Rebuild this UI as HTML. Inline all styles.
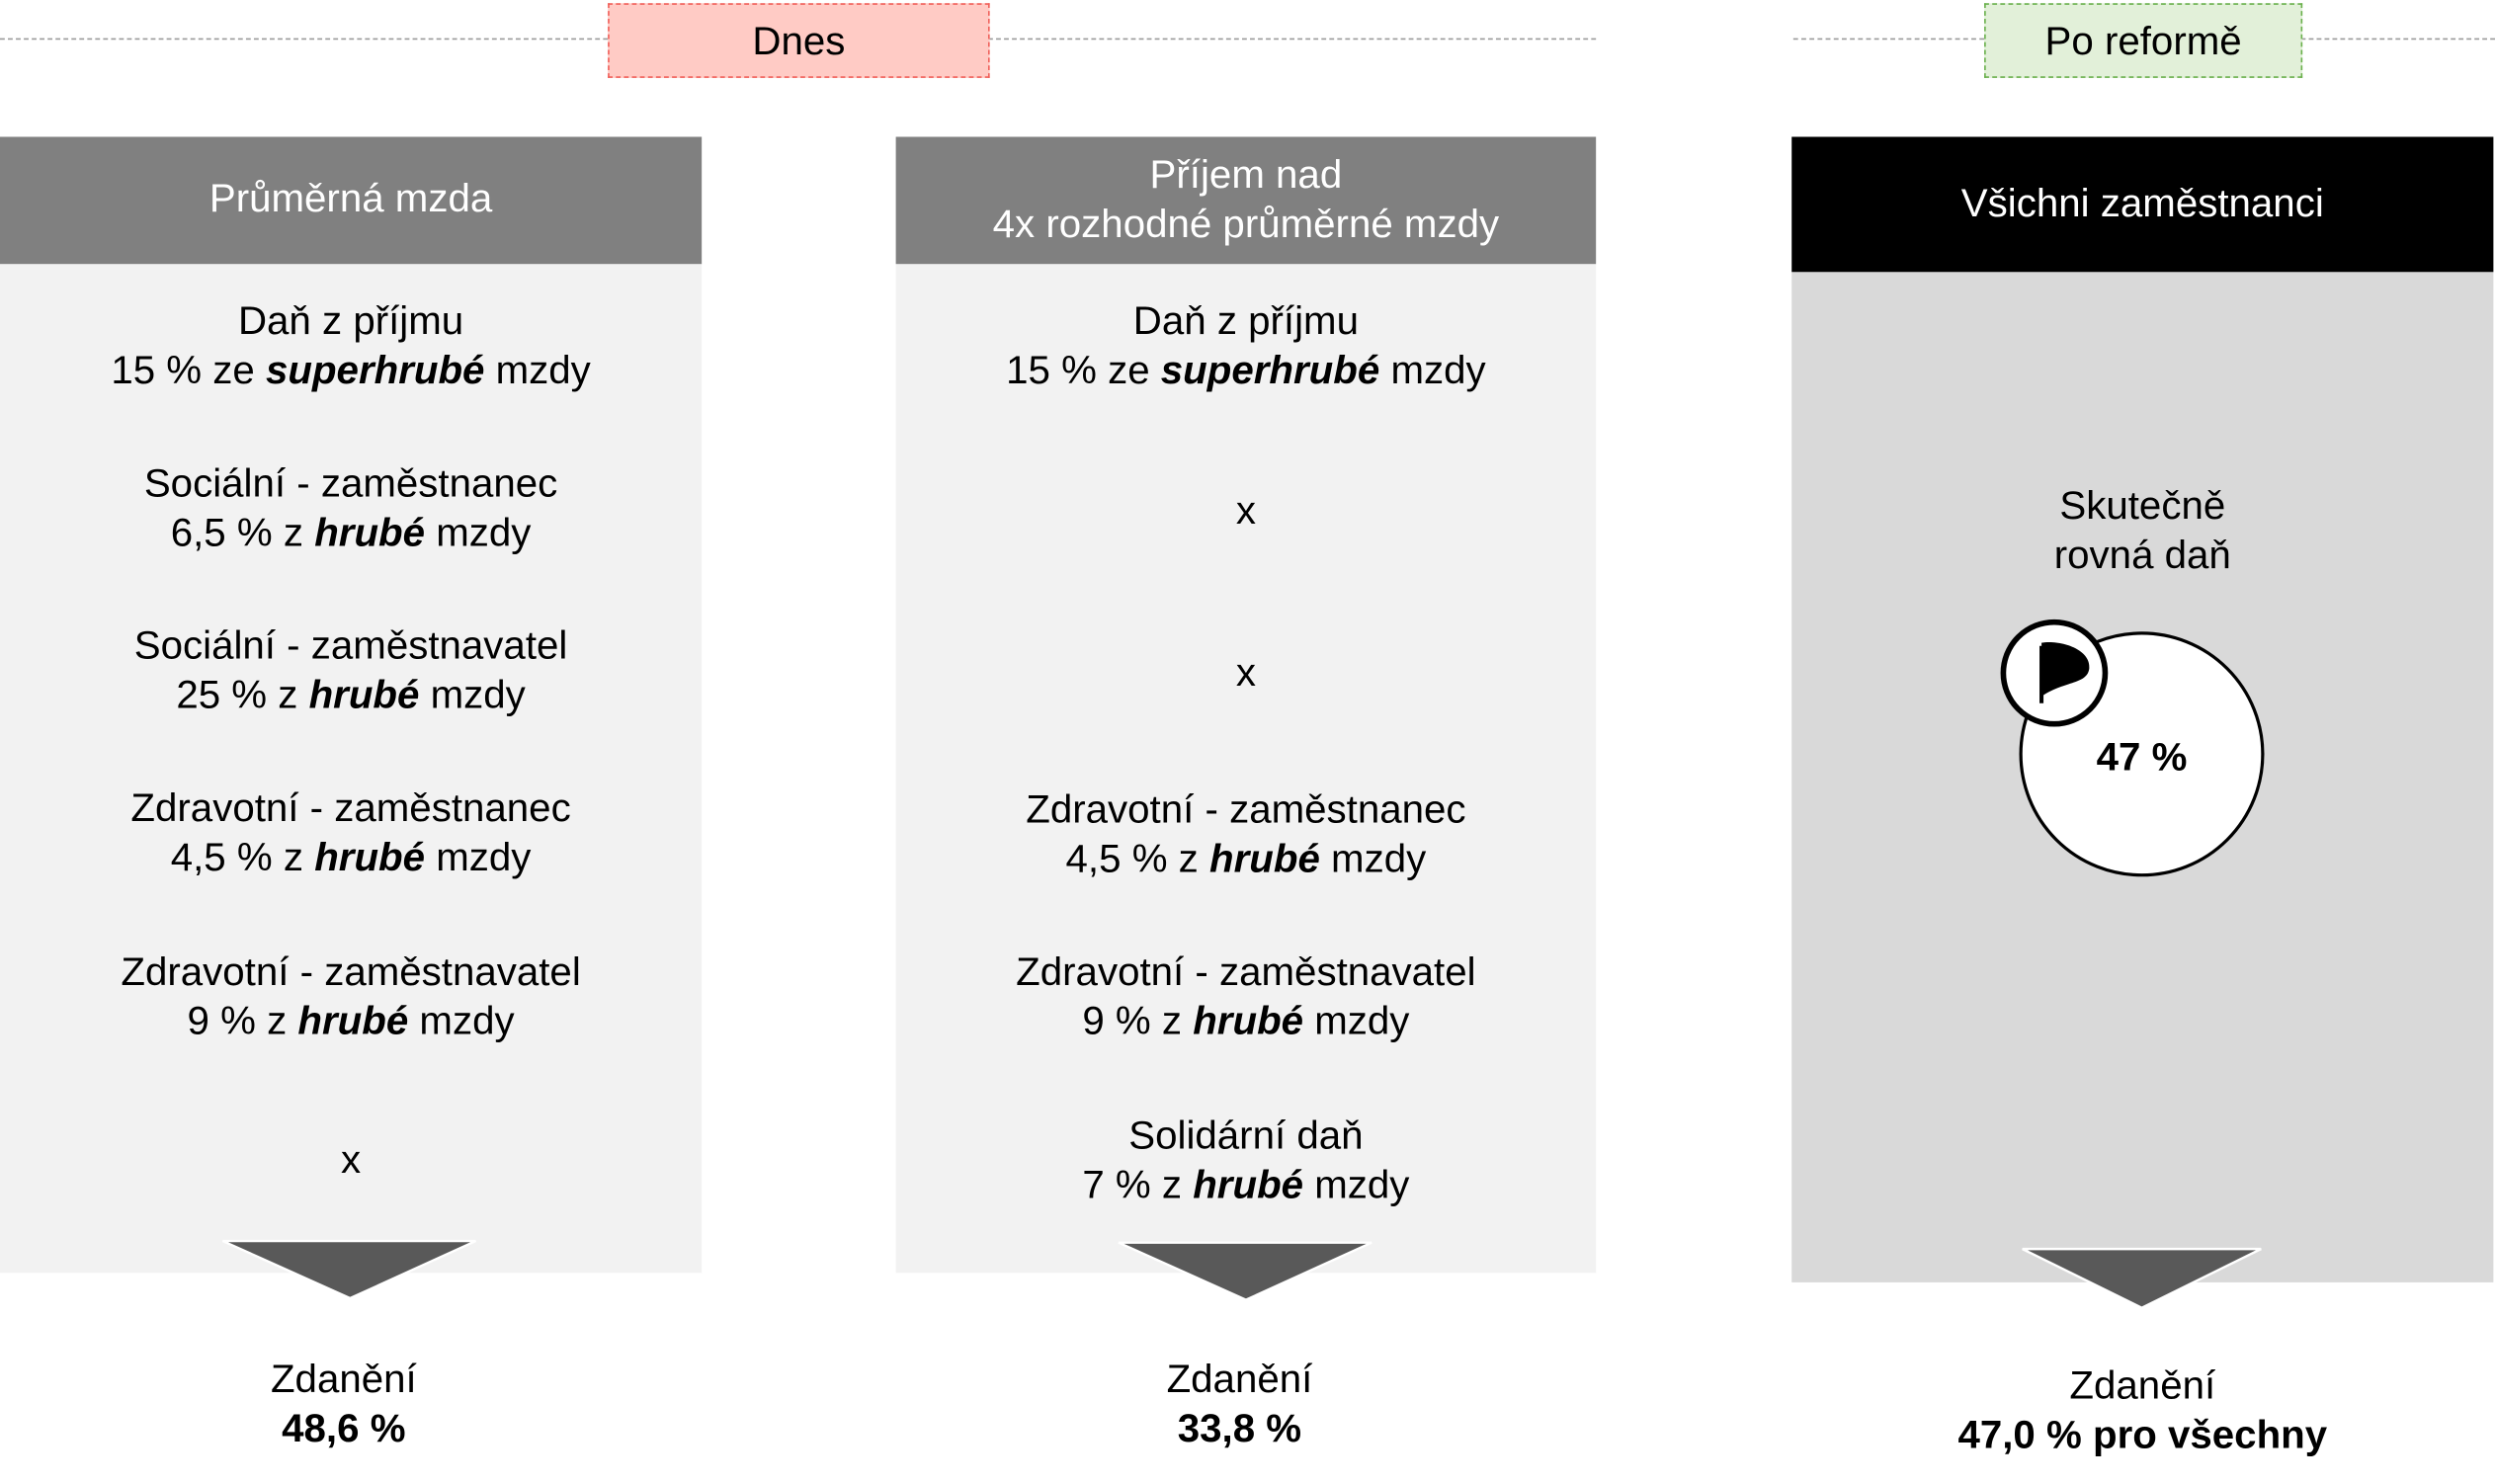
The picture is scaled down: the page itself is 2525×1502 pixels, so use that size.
<!DOCTYPE html>
<html><head><meta charset="utf-8"><style>
html,body{margin:0;padding:0;background:#fff;overflow:hidden;width:2525px;height:1502px}
#s{position:absolute;left:0;top:0;width:1568px;height:933px;transform:scale(1.61033);transform-origin:0 0;font-family:"Liberation Sans","Arimo","Helvetica","Arial","DejaVu Sans",sans-serif;color:#000}
.a{position:absolute}
.t{position:absolute;text-align:center;font-size:25px;line-height:31px;white-space:nowrap}
.h{color:#fff}
b i,i b{font-weight:bold;font-style:italic}
</style></head><body><div id="s">
<div class="a" style="left:0;top:24px;width:382px;border-top:1px dashed #9a9a9a"></div>
<div class="a" style="left:621px;top:24px;width:382px;border-top:1px dashed #9a9a9a"></div>
<div class="a" style="left:1127px;top:24px;width:120px;border-top:1px dashed #9a9a9a"></div>
<div class="a" style="left:1446px;top:24px;width:122px;border-top:1px dashed #9a9a9a"></div>
<div class="a" style="left:382px;top:2px;width:238px;height:45px;background:#ffcbc5;border:1px dashed #f0605a"></div>
<div class="t" style="left:382px;top:11px;width:240px">Dnes</div>
<div class="a" style="left:1247px;top:2px;width:198px;height:45px;background:#e2f0d9;border:1px dashed #6ab04c"></div>
<div class="t" style="left:1247px;top:11px;width:200px">Po reformě</div>

<div class="a" style="left:0;top:86px;width:441px;height:80px;background:#808080"></div>
<div class="a" style="left:0;top:166px;width:441px;height:634px;background:#f2f2f2"></div>
<div class="a" style="left:563px;top:86px;width:440px;height:80px;background:#808080"></div>
<div class="a" style="left:563px;top:166px;width:440px;height:634px;background:#f2f2f2"></div>
<div class="a" style="left:1126px;top:86px;width:441px;height:85px;background:#000"></div>
<div class="a" style="left:1126px;top:171px;width:441px;height:635px;background:#d9d9d9"></div>

<div class="t h" style="left:0;width:441px;top:110px">Průměrná mzda</div>
<div class="t h" style="left:563px;width:440px;top:95px">Příjem nad<br>4x rozhodné průměrné mzdy</div>
<div class="t h" style="left:1126px;width:441px;top:113px">Všichni zaměstnanci</div>

<div class="t" style="left:0;width:441px;top:187px">Daň z příjmu<br>15 % ze <b><i>superhrubé</i></b> mzdy</div>
<div class="t" style="left:0;width:441px;top:289px">Sociální - zaměstnanec<br>6,5 % z <b><i>hrubé</i></b> mzdy</div>
<div class="t" style="left:0;width:441px;top:391px">Sociální - zaměstnavatel<br>25 % z <b><i>hrubé</i></b> mzdy</div>
<div class="t" style="left:0;width:441px;top:493px">Zdravotní - zaměstnanec<br>4,5 % z <b><i>hrubé</i></b> mzdy</div>
<div class="t" style="left:0;width:441px;top:596px">Zdravotní - zaměstnavatel<br>9 % z <b><i>hrubé</i></b> mzdy</div>
<div class="t" style="left:0;width:441px;top:714px">x</div>

<div class="t" style="left:563px;width:440px;top:187px">Daň z příjmu<br>15 % ze <b><i>superhrubé</i></b> mzdy</div>
<div class="t" style="left:563px;width:440px;top:306px">x</div>
<div class="t" style="left:563px;width:440px;top:408px">x</div>
<div class="t" style="left:563px;width:440px;top:494px">Zdravotní - zaměstnanec<br>4,5 % z <b><i>hrubé</i></b> mzdy</div>
<div class="t" style="left:563px;width:440px;top:596px">Zdravotní - zaměstnavatel<br>9 % z <b><i>hrubé</i></b> mzdy</div>
<div class="t" style="left:563px;width:440px;top:699px">Solidární daň<br>7 % z <b><i>hrubé</i></b> mzdy</div>

<div class="t" style="left:1126px;width:441px;top:303px">Skutečně<br>rovná daň</div>

<svg class="a" style="left:0;top:0" width="1568" height="933">
<polygon points="140,780 299,780 220,816" fill="#595959" stroke="#fff" stroke-width="1.5"/>
<polygon points="703,781 862,781 783,817" fill="#595959" stroke="#fff" stroke-width="1.5"/>
<polygon points="1271,785 1421,785 1346,822" fill="#595959" stroke="#fff" stroke-width="1.5"/>
<circle cx="1346" cy="474" r="76" fill="#fff" stroke="#000" stroke-width="2"/>
<circle cx="1291" cy="423" r="32" fill="#fff" stroke="#000" stroke-width="3.5"/>
<path d="M1283 406 L1283 442" stroke="#000" stroke-width="2.5"/>
<path d="M1283 404 C1295 402 1314 408 1313 420 C1312 430 1298 428 1284 437 Z" fill="#000"/>
<text x="1346" y="484" text-anchor="middle" font-family="Liberation Sans, Arimo, Helvetica, Arial, sans-serif" font-size="25" font-weight="bold">47 %</text>
</svg>

<div class="t" style="left:0;width:432px;top:852px">Zdanění<br><b>48,6 %</b></div>
<div class="t" style="left:563px;width:432px;top:852px">Zdanění<br><b>33,8 %</b></div>
<div class="t" style="left:1126px;width:441px;top:856px">Zdanění<br><b>47,0 % pro všechny</b></div>
</div></body></html>
